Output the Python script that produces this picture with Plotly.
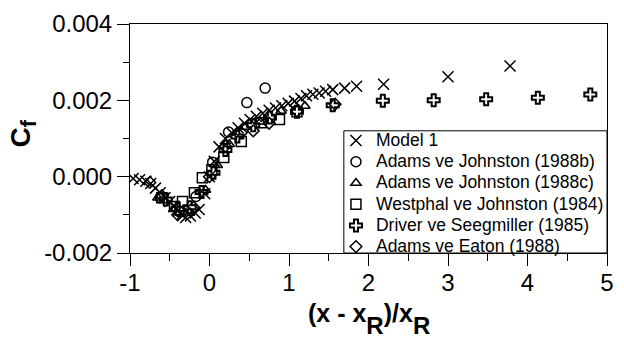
import plotly.graph_objects as go

# Model 1
model_x = [-0.96, -0.88, -0.80, -0.74, -0.68, -0.62, -0.56, -0.50, -0.45, -0.40, -0.35, -0.30,
           -0.24, -0.18, -0.13, -0.06, 0.00, 0.06, 0.12, 0.20, 0.28, 0.36, 0.44, 0.51, 0.59,
           0.67, 0.75, 0.83, 0.91, 0.99, 1.07, 1.15, 1.22, 1.30, 1.38, 1.46, 1.55, 1.70, 1.85,
           2.19, 3.00, 3.78]
model_y = [-0.00005, -0.00008, -0.00012, -0.00018, -0.00030, -0.00042, -0.00055, -0.00065,
           -0.00078, -0.00090, -0.00100, -0.00107, -0.00103, -0.00095, -0.00086, -0.00045,
           0.00000, 0.00040, 0.00078, 0.00100, 0.00115, 0.00128, 0.00140, 0.00150, 0.00158,
           0.00166, 0.00174, 0.00180, 0.00186, 0.00192, 0.00198, 0.00205, 0.00212, 0.00216,
           0.00219, 0.00224, 0.00228, 0.00232, 0.00237, 0.00242, 0.00262, 0.00290]

# Adams ve Johnston (1988b)
aj88b_x = [-0.62, -0.38, -0.17, 0.04, 0.24, 0.47, 0.70]
aj88b_y = [-0.00055, -0.00092, -0.00052, 0.00038, 0.00117, 0.00194, 0.00232]

# Adams ve Johnston (1988c)
aj88c_x = [-0.65, -0.45, -0.25, -0.05, 0.10, 0.25, 0.45, 0.64, 0.90, 1.20]
aj88c_y = [-0.00055, -0.00085, -0.00095, -0.00035, 0.00030, 0.00085, 0.00130, 0.00144,
           0.00172, 0.00185]

# Westphal ve Johnston (1984)
wj_x = [-0.60, -0.44, -0.34, -0.19, -0.09, 0.03, 0.18, 0.40, 0.65, 0.88, 1.10]
wj_y = [-0.00055, -0.00078, -0.00065, -0.00042, -0.00003, 0.00018, 0.00050, 0.00092,
        0.00141, 0.00150, 0.00170]

# Driver ve Seegmiller (1985)
ds_x = [-0.55, -0.40, -0.25, -0.10, 0.05, 0.20, 0.35, 0.55, 0.76, 1.10, 1.55,
        2.18, 2.82, 3.48, 4.13, 4.79]
ds_y = [-0.00060, -0.00085, -0.00080, -0.00040, 0.00010, 0.00070, 0.00105, 0.00135,
        0.00155, 0.00170, 0.00187, 0.00199, 0.00200, 0.00203, 0.00207, 0.00215]

# Adams ve Eaton (1988)
ae_x = [-0.75, -0.60, -0.40, -0.20, 0.00, 0.20, 0.40, 0.55, 0.75, 1.10, 1.58]
ae_y = [-0.00015, -0.00050, -0.00100, -0.00080, 0.00000, 0.00080, 0.00115, 0.00120,
        0.00140, 0.00172, 0.00190]

x_ticks = [-1, 0, 1, 2, 3, 4, 5]
x_ticktext = ["-1", "0", "1", "2", "3", "4", "5"]
x_minor = [-0.5, 0.5, 1.5, 2.5, 3.5, 4.5]
y_ticks = [-0.002, 0.0, 0.002, 0.004]
y_ticktext = ["-0.002", "0.000", "0.002", "0.004"]
y_minor = [-0.001, 0.001, 0.003]

fig = go.Figure()

def add(name, xs, ys, symbol, size, lw):
    fig.add_trace(go.Scatter(
        x=xs, y=ys, mode="markers",
        name='<span style="font-size:17.5px">' + name + '</span>',
        marker=dict(symbol=symbol, size=size, color="black",
                    line=dict(color="black", width=lw)),
    ))

add("Model 1", model_x, model_y, "x-thin-open", 11, 1.5)
add("Adams ve Johnston (1988b)", aj88b_x, aj88b_y, "circle-open", 10, 1.5)
add("Adams ve Johnston (1988c)", aj88c_x, aj88c_y, "triangle-up-open", 9, 1.5)
add("Westphal ve Johnston (1984)", wj_x, wj_y, "square-open", 10, 1.5)
add("Driver ve Seegmiller (1985)", ds_x, ds_y, "cross-open", 10, 2)
add("Adams ve Eaton (1988)", ae_x, ae_y, "diamond-open", 9, 1.5)

font = "Arial, Liberation Sans, sans-serif"

sub_r = '<span style="font-size:55px"><sub><span style="font-size:24px">R</span></sub></span>'

fig.update_layout(
    width=624, height=340,
    margin=dict(l=130, r=10, t=15, b=87),
    paper_bgcolor="white", plot_bgcolor="white",
    font=dict(family=font, color="black"),
    showlegend=True,
    legend=dict(x=0.4318, y=0.559, xanchor="left", yanchor="top",
                borderwidth=0, bgcolor="rgba(0,0,0,0)",
                font=dict(size=14, family=font, color="black"),
                tracegroupgap=0, itemwidth=30),
    shapes=[dict(type="rect", xref="paper", yref="paper",
                 x0=0.4483, x1=1.0, y0=0.0, y1=0.5336,
                 line=dict(color="black", width=1), fillcolor="white", layer="below")],
    xaxis=dict(range=[-1, 5], tickmode="array", tickvals=x_ticks, ticktext=x_ticktext,
               ticks="outside", ticklen=12, tickwidth=1, tickcolor="black",
               ticklabelstandoff=-4,
               showline=True, linecolor="black", linewidth=1, mirror=True,
               showgrid=False, zeroline=False,
               tickfont=dict(size=24, family=font, color="black"),
               minor=dict(tickmode="array", tickvals=x_minor, ticks="outside",
                          ticklen=7, tickwidth=1, tickcolor="black", showgrid=False)),
    yaxis=dict(range=[-0.002, 0.004], tickmode="array", tickvals=y_ticks, ticktext=y_ticktext,
               ticks="outside", ticklen=12, tickwidth=1, tickcolor="black",
               showline=True, linecolor="black", linewidth=1, mirror=True,
               showgrid=False, zeroline=False,
               tickfont=dict(size=24, family=font, color="black"),
               minor=dict(tickmode="array", tickvals=y_minor, ticks="outside",
                          ticklen=6, tickwidth=1, tickcolor="black", showgrid=False)),
    annotations=[
        dict(text='<b>C<sub><span style="font-size:22px">f</span></sub></b>',
             xref="paper", yref="paper",
             x=-0.225, y=0.52, xanchor="center", yanchor="middle", textangle=-90,
             showarrow=False, font=dict(size=28, family=font, color="black")),
        dict(text='<b>(x - x' + sub_r + ')/x' + sub_r + '</b>',
             xref="paper", yref="paper",
             x=0.5, y=-0.19, xanchor="center", yanchor="top",
             showarrow=False, font=dict(size=25, family=font, color="black")),
    ],
)

fig.write_html("out.html")
